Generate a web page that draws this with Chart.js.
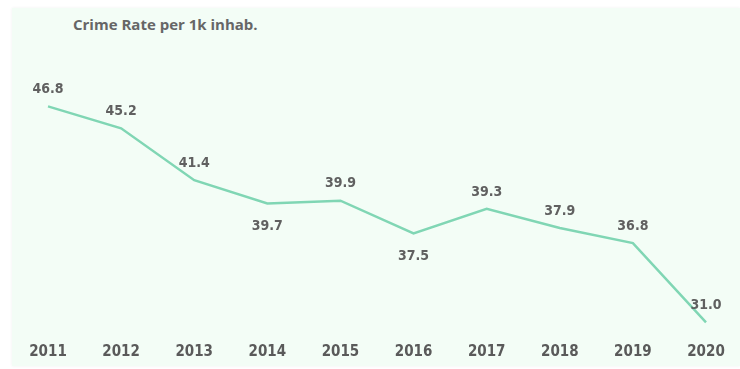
<!DOCTYPE html>
<html>
<head>
<meta charset="utf-8">
<script src="https://cdn.jsdelivr.net/npm/chart.js@4"></script>
<style>
  html, body { margin: 0; padding: 0; background: #ffffff; }
  #wrap { position: relative; width: 740px; height: 369px; overflow: hidden; }
  #card { position: absolute; left: 12px; top: 8px; width: 728px; height: 358px; background: #f3fdf6;
          box-shadow: 0 0 3px rgba(0,0,0,0.06); }
  #title { position: absolute; left: 73px; top: 14px; font: bold 15px "Open Sans", sans-serif; color: #666; }
  canvas { position: absolute; left: 0; top: 0; }
</style>
</head>
<body>
<div id="wrap">
  <div id="card"></div>
  <div id="title">Crime Rate per 1k inhab.</div>
  <canvas id="crimeChart" width="740" height="369"></canvas>
</div>
<script>
// chart data
const years = ["2011", "2012", "2013", "2014", "2015", "2016", "2017", "2018", "2019", "2020"];
const crimeRate = [46.8, 45.2, 41.4, 39.7, 39.9, 37.5, 39.3, 37.9, 36.8, 31.0];

// draws value labels, below the point when it is a dip between two neighbours
const valueLabels = {
  id: "valueLabels",
  afterDatasetsDraw(chart) {
    const ctx = chart.ctx;
    const meta = chart.getDatasetMeta(0);
    const vals = chart.data.datasets[0].data;
    ctx.save();
    ctx.font = "bold 14px 'DejaVu Sans Condensed', 'Liberation Sans Narrow', sans-serif";
    ctx.fillStyle = "#606060";
    ctx.textAlign = "center";
    ctx.textBaseline = "middle";
    meta.data.forEach(function (pt, i) {
      const v = vals[i];
      const dip = i > 0 && i < vals.length - 1 && v < vals[i - 1] && v < vals[i + 1];
      const y = dip ? pt.y + 23 : pt.y - 17;
      ctx.fillText(v.toFixed(1), pt.x, y);
    });
    ctx.restore();
  }
};

const ctx = document.getElementById("crimeChart").getContext("2d");
new Chart(ctx, {
  type: "line",
  data: {
    labels: years,
    datasets: [
      {
        label: "Crime Rate",
        data: crimeRate,
        borderColor: "#80d6b4",
        borderWidth: 2.5,
        pointRadius: 0,
        tension: 0,
        fill: false,
      },
    ],
  },
  options: {
    responsive: false,
    animation: false,
    layout: { padding: { left: 48, right: 34, top: 90, bottom: 1 } },
    plugins: { legend: { display: false }, tooltip: { enabled: false } },
    scales: {
      x: {
        offset: false,
        grid: { display: false, drawTicks: false },
        border: { display: false },
        ticks: {
          padding: 7,
          color: "#5a5a5a",
          maxRotation: 0,
          autoSkip: false,
          font: { family: "'DejaVu Sans Condensed', 'Liberation Sans Narrow', sans-serif", size: 15, weight: "bold" },
        },
      },
      y: {
        display: false,
        min: 30,
        max: 48,
      },
    },
  },
  plugins: [valueLabels],
});
</script>
</body>
</html>
